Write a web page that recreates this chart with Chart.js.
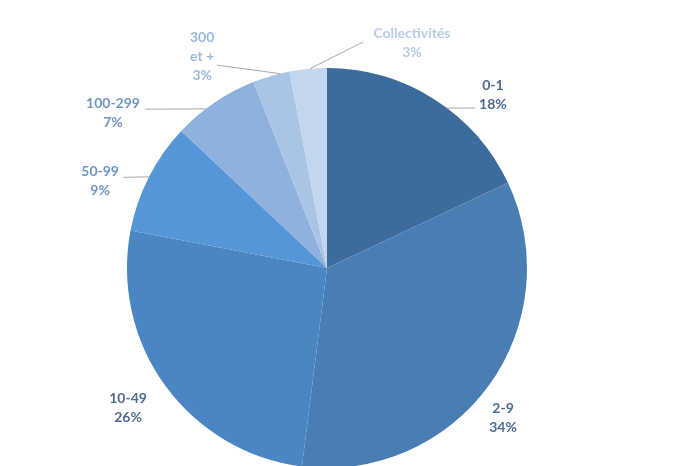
<!DOCTYPE html>
<html>
<head>
<meta charset="utf-8">
<script src="https://cdn.jsdelivr.net/npm/chart.js@4/dist/chart.umd.min.js"></script>
<style>
  html, body { margin: 0; padding: 0; background: #ffffff; overflow: hidden; }
  #wrap { position: relative; width: 678px; height: 470px; }
</style>
</head>
<body>
<div id="wrap"><canvas id="c"></canvas></div>
<script>
// ---- data ----
const categories = ["0-1", "2-9", "10-49", "50-99", "100-299", "300 et +", "Collectivités"];
const shares = [18, 34, 26, 9, 7, 3, 3];
const labelLines = [["0-1"], ["2-9"], ["10-49"], ["50-99"], ["100-299"], ["300", "et +"], ["Collectivités"]];

// ---- styles ----
const sliceColors = ["#3d6b9c", "#4a7db3", "#4a86c4", "#5596d6", "#8eb1dd", "#aac4e6", "#c4d6ee"];
const textColors = ["#4d6b90", "#4d6b90", "#4d6b90", "#6f95c4", "#6f95c4", "#9cb8dc", "#b7cbea"];
// label placement, polar: angle clockwise from top (deg), distance as fraction of radius
const labelPos = [
  { a: 43.8, d: 1.199 }, { a: 130.4, d: 1.156 }, { a: 234.9, d: 1.216 },
  { a: 291.0, d: 1.215 }, { a: 305.9, d: 1.321 }, { a: 329.4, d: 1.226 }, { a: 20.7, d: 1.202 }
];
// leader lines: start on arc (angle), end at (angle, distance fraction)
const leaders = [
  { a1: 36.9, a2: 42.8, d2: 1.09 }, null, null,
  { a1: 297.1, a2: 294.0, d2: 1.115 }, { a1: 322.7, a2: 311.1, d2: 1.208 },
  { a1: 346.4, a2: 331.5, d2: 1.154 }, { a1: 355.1, a2: 9.05, d2: 1.144 }
];

const labelPlugin = {
  id: 'pieLabels',
  afterDatasetsDraw(chart) {
    const ctx = chart.ctx;
    const meta = chart.getDatasetMeta(0);
    const arc0 = meta.data[0];
    const cx = arc0.x, cy = arc0.y, R = arc0.outerRadius;
    const pt = (a, d) => {
      const t = a * Math.PI / 180;
      return [cx + Math.sin(t) * d * R, cy - Math.cos(t) * d * R];
    };
    ctx.save();
    ctx.strokeStyle = "#a6a6a6";
    ctx.lineWidth = 1;
    leaders.forEach(l => {
      if (!l) return;
      const [x1, y1] = pt(l.a1, 1.0);
      const [x2, y2] = pt(l.a2, l.d2);
      ctx.beginPath();
      ctx.moveTo(x1, y1);
      ctx.lineTo(x2, y2);
      ctx.stroke();
    });
    ctx.font = "bold 14px Lato, 'Open Sans', sans-serif";
    ctx.textAlign = "center";
    ctx.textBaseline = "middle";
    const lh = 19;
    categories.forEach((c, i) => {
      const lines = labelLines[i].concat([shares[i] + "%"]);
      const [x, y] = pt(labelPos[i].a, labelPos[i].d);
      ctx.fillStyle = textColors[i];
      const y0 = y - (lines.length - 1) * lh / 2;
      lines.forEach((s, k) => ctx.fillText(s, x, y0 + k * lh));
    });
    ctx.restore();
  }
};

new Chart(document.getElementById('c'), {
  type: 'pie',
  data: {
    labels: categories,
    datasets: [{
      data: shares,
      backgroundColor: sliceColors,
      borderWidth: 0
    }]
  },
  options: {
    responsive: true,
    maintainAspectRatio: false,
    animation: false,
    layout: { padding: { top: 68, bottom: 2, left: 127, right: 151 } },
    plugins: {
      legend: { display: false },
      tooltip: { enabled: false }
    }
  },
  plugins: [labelPlugin]
});
</script>
</body>
</html>
